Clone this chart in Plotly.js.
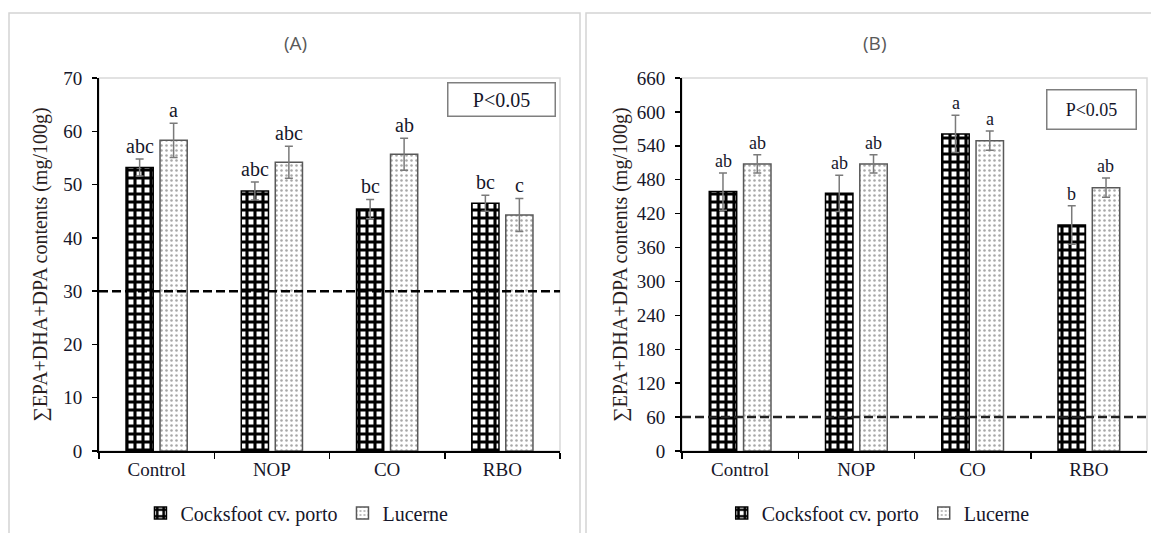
<!DOCTYPE html>
<html>
<head>
<meta charset="utf-8">
<script src="https://cdn.plot.ly/plotly-3.0.1.min.js"></script>
<style>html,body{margin:0;padding:0;background:#fff;}#chart{width:1151px;height:533px;}</style>
</head>
<body>
<div id="chart"></div>
<script>
// ---- data ----
const categories = ['Control', 'NOP', 'CO', 'RBO'];
const seriesNames = ['Cocksfoot cv. porto', 'Lucerne'];

const cocksfootA = [53.2, 48.8, 45.4, 46.5];
const cocksfootErrA = [1.6, 1.7, 1.8, 1.5];
const lucerneA = [58.3, 54.2, 55.7, 44.3];
const lucerneErrA = [3.2, 3.0, 3.0, 3.1];
const lettersCocksfootA = ['abc', 'abc', 'bc', 'bc'];
const lettersLucerneA = ['a', 'abc', 'ab', 'c'];

const cocksfootB = [459, 456, 561, 400];
const cocksfootErrB = [33, 32, 33, 34];
const lucerneB = [508, 508, 549, 466];
const lucerneErrB = [16, 16, 17, 17];
const lettersCocksfootB = ['ab', 'ab', 'a', 'b'];
const lettersLucerneB = ['ab', 'ab', 'a', 'ab'];

const thresholdA = 30;
const thresholdB = 60;
const yRangeA = [0, 70];
const yRangeB = [0, 660];
const panelTitles = ['(A)', '(B)'];
const yTitle = '∑EPA+DHA+DPA contents (mg/100g)';
const pLabel = 'P&lt;0.05';

// ---- styles ----
const serif = 'Liberation Serif, Times New Roman, serif';
const textColor = '#16162a';
const cockStyle = {
  color: 'white',
  line: {color: '#000', width: 1.5},
  pattern: {shape: '+', fgcolor: '#000', bgcolor: '#fff', size: 8, solidity: 0.62, fillmode: 'replace'}
};
const lucStyle = {
  color: 'white',
  line: {color: '#595959', width: 1.5},
  pattern: {shape: '.', fgcolor: '#a8a8a8', bgcolor: '#fff', size: 5, solidity: 0.2, fillmode: 'replace'}
};
const errStyle = (arr) => ({type: 'data', array: arr, visible: true, color: '#7a7a7a', thickness: 1.5, width: 4});

const traces = [
  {type: 'bar', name: seriesNames[0], x: categories, y: cocksfootA, error_y: errStyle(cocksfootErrA),
   marker: cockStyle, xaxis: 'x', yaxis: 'y', legend: 'legend'},
  {type: 'bar', name: seriesNames[1], x: categories, y: lucerneA, error_y: errStyle(lucerneErrA),
   marker: lucStyle, xaxis: 'x', yaxis: 'y', legend: 'legend'},
  {type: 'bar', name: seriesNames[0], x: categories, y: cocksfootB, error_y: errStyle(cocksfootErrB),
   marker: cockStyle, xaxis: 'x2', yaxis: 'y2', legend: 'legend2'},
  {type: 'bar', name: seriesNames[1], x: categories, y: lucerneB, error_y: errStyle(lucerneErrB),
   marker: lucStyle, xaxis: 'x2', yaxis: 'y2', legend: 'legend2'}
];

// letters above error bars
const annotations = [];
function addLetters(vals, errs, letters, xref, yref, shift, size) {
  categories.forEach((c, i) => {
    annotations.push({
      x: c, y: vals[i] + errs[i], xref: xref, yref: yref, text: letters[i],
      showarrow: false, xanchor: 'center', yanchor: 'bottom', xshift: shift, yshift: 0,
      font: {family: serif, size: size, color: textColor}
    });
  });
}
addLetters(cocksfootA, cocksfootErrA, lettersCocksfootA, 'x', 'y', -17, 20);
addLetters(lucerneA, lucerneErrA, lettersLucerneA, 'x', 'y', 17, 20);
addLetters(cocksfootB, cocksfootErrB, lettersCocksfootB, 'x2', 'y2', -17, 18);
addLetters(lucerneB, lucerneErrB, lettersLucerneB, 'x2', 'y2', 17, 18);

// panel titles
annotations.push({text: panelTitles[0], xref: 'paper', yref: 'paper', x: 0.2563, y: 0.9193,
  showarrow: false, xanchor: 'center', yanchor: 'middle',
  font: {family: 'Open Sans, Liberation Sans, sans-serif', size: 19, color: '#595959'}});
annotations.push({text: panelTitles[1], xref: 'paper', yref: 'paper', x: 0.7602, y: 0.9193,
  showarrow: false, xanchor: 'center', yanchor: 'middle',
  font: {family: 'Open Sans, Liberation Sans, sans-serif', size: 19, color: '#595959'}});

// P<0.05 boxes
annotations.push({text: pLabel, xref: 'paper', yref: 'paper', x: 0.4361, y: 0.8124,
  showarrow: false, xanchor: 'center', yanchor: 'middle', width: 104, height: 30,
  bordercolor: '#7f7f7f', borderwidth: 1.5, borderpad: 1, bgcolor: '#fff',
  font: {family: serif, size: 20, color: textColor}});
annotations.push({text: pLabel, xref: 'paper', yref: 'paper', x: 0.9487, y: 0.7946,
  showarrow: false, xanchor: 'center', yanchor: 'middle', width: 86, height: 36,
  bordercolor: '#7f7f7f', borderwidth: 1.5, borderpad: 1, bgcolor: '#fff',
  font: {family: serif, size: 18, color: textColor}});

const shapes = [
  // outer panel frames
  {type: 'rect', xref: 'paper', yref: 'paper', x0: 9 / 1151, x1: 580 / 1151, y0: -0.05, y1: 520 / 533,
   line: {color: '#d4d4d4', width: 1.5}, layer: 'below'},
  {type: 'rect', xref: 'paper', yref: 'paper', x0: 586 / 1151, x1: 1.02, y0: -0.05, y1: 520 / 533,
   line: {color: '#d4d4d4', width: 1.5}, layer: 'below'},
  // plot area outlines
  {type: 'rect', xref: 'x domain', yref: 'y domain', x0: 0, x1: 1, y0: 0, y1: 1,
   line: {color: '#d9d9d9', width: 1.5}, layer: 'below'},
  {type: 'rect', xref: 'x2 domain', yref: 'y2 domain', x0: 0, x1: 1, y0: 0, y1: 1,
   line: {color: '#d9d9d9', width: 1.5}, layer: 'below'},
  // thresholds
  {type: 'line', xref: 'x domain', yref: 'y', x0: 0, x1: 1, y0: thresholdA, y1: thresholdA,
   line: {color: '#000', width: 2.5, dash: '9px,4px'}},
  {type: 'line', xref: 'x2 domain', yref: 'y2', x0: 0, x1: 1, y0: thresholdB, y1: thresholdB,
   line: {color: '#222', width: 2.5, dash: '9px,4px'}}
];

const xCommon = {
  type: 'category', showline: true, linecolor: '#000', linewidth: 2, ticks: 'outside',
  tickson: 'boundaries', ticklen: 6, tickwidth: 1.5, tickcolor: '#000', showgrid: false, zeroline: false,
  tickfont: {family: serif, size: 19, color: textColor}, fixedrange: true
};
const yCommon = {
  showline: true, linecolor: '#000', linewidth: 2, ticks: 'outside', ticklen: 5, tickwidth: 1.5,
  tickcolor: '#000', showgrid: false, zeroline: false, ticklabelstandoff: 6,
  tickfont: {family: serif, size: 19, color: textColor},
  title: {text: yTitle, font: {family: serif, size: 20, color: '#2a1e1e'}}
};

const legendCommon = {
  orientation: 'h', xanchor: 'center', yanchor: 'middle', y: 0.0375,
  font: {family: serif, size: 20, color: textColor}, bgcolor: 'rgba(0,0,0,0)',
  itemwidth: 30, tracegroupgap: 0
};

const layout = {
  width: 1151, height: 533,
  margin: {l: 0, r: 0, t: 0, b: 0},
  paper_bgcolor: '#fff', plot_bgcolor: '#fff',
  barmode: 'group', bargap: 0.41, bargroupgap: 0.2,
  showlegend: true,
  xaxis: Object.assign({}, xCommon, {domain: [99 / 1151, 560 / 1151], anchor: 'y'}),
  yaxis: Object.assign({}, yCommon, {domain: [82 / 533, 455 / 533], anchor: 'x', range: yRangeA, dtick: 10,
    title: Object.assign({}, yCommon.title, {standoff: 10})}),
  xaxis2: Object.assign({}, xCommon, {domain: [682 / 1151, 1147 / 1151], anchor: 'y2'}),
  yaxis2: Object.assign({}, yCommon, {domain: [82 / 533, 455 / 533], anchor: 'x2', range: yRangeB, dtick: 60,
    title: Object.assign({}, yCommon.title, {standoff: 4})}),
  legend: Object.assign({}, legendCommon, {x: 0.258}),
  legend2: Object.assign({}, legendCommon, {x: 0.763}),
  annotations: annotations,
  shapes: shapes
};

Plotly.newPlot('chart', traces, layout, {staticPlot: true, displayModeBar: false});
</script>
</body>
</html>
